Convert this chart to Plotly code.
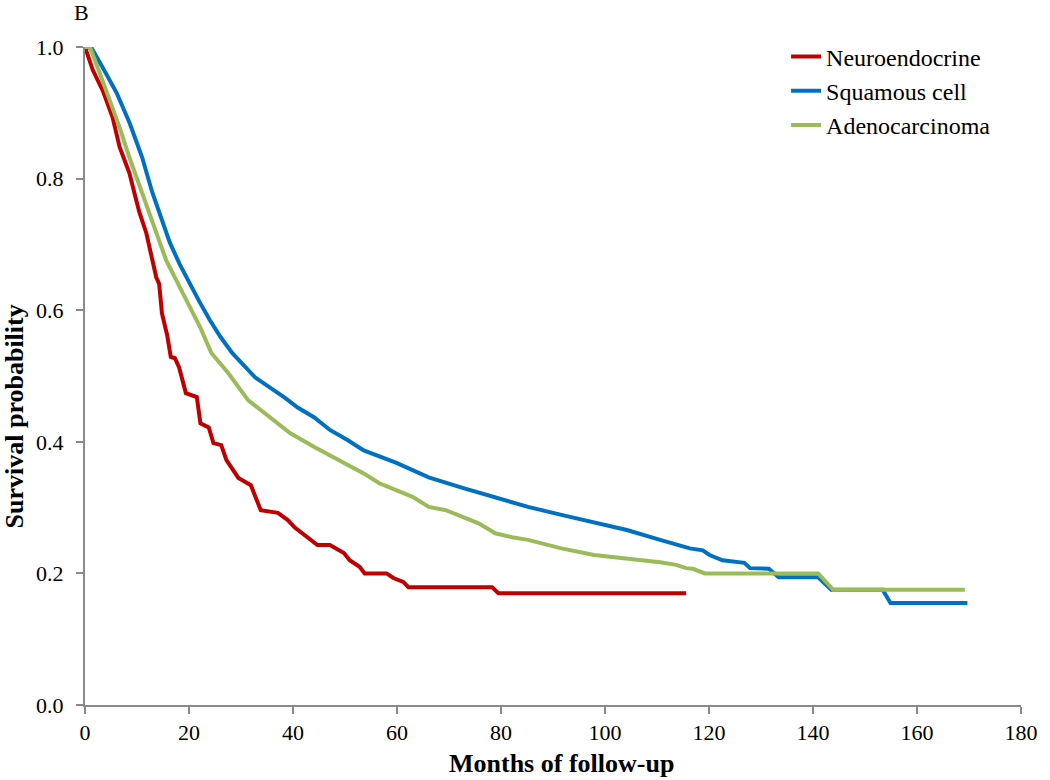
import plotly.graph_objects as go

# Neuroendocrine
neuro_month = [0, 0.4, 1.5, 3.4, 5.3, 6.65, 8.55, 9.5, 10.45, 11.8, 12.7, 13.7, 14.26, 14.8, 15.8, 16.5, 17.3,
               18.1, 19.4, 21.5, 22.2, 23.8, 24.7, 26.2, 27.2, 29.5, 31.9, 33.8, 37.1, 39.0, 40.3, 42.8, 44.7,
               47.1, 49.8, 50.9, 52.8, 53.8, 58.0, 59.3, 61.2, 62.2, 78.3, 79.5, 115.6]
neuro_surv = [1.0, 0.99, 0.965, 0.934, 0.893, 0.848, 0.808, 0.778, 0.749, 0.717, 0.684, 0.650, 0.640, 0.595,
              0.562, 0.529, 0.527, 0.513, 0.474, 0.468, 0.428, 0.422, 0.398, 0.395, 0.372, 0.345, 0.334, 0.296,
              0.292, 0.281, 0.270, 0.255, 0.243, 0.243, 0.231, 0.220, 0.210, 0.200, 0.200, 0.193, 0.187, 0.179,
              0.179, 0.170, 0.170]

# Squamous cell
squam_month = [0, 1.3, 3.4, 6.1, 8.6, 11.0, 12.9, 14.6, 16.3, 18.2, 20.0, 22.0, 24.0, 26.0, 28.3, 32.7, 38.4,
               40.9, 44.1, 47.1, 50.4, 53.6, 59.9, 66.1, 72.6, 78.9, 85.2, 91.6, 97.9, 104.2, 110.6, 116.3,
               118.8, 120.1, 122.6, 126.8, 127.9, 131.5, 133.4, 141.0, 143.5, 153.4, 154.9, 169.7]
squam_surv = [1.0, 0.998, 0.969, 0.930, 0.884, 0.832, 0.78, 0.74, 0.703, 0.67, 0.642, 0.613, 0.585, 0.56,
              0.535, 0.498, 0.467, 0.452, 0.437, 0.418, 0.403, 0.387, 0.368, 0.346, 0.330, 0.316, 0.301, 0.289,
              0.278, 0.266, 0.251, 0.238, 0.235, 0.228, 0.220, 0.216, 0.208, 0.207, 0.194, 0.194, 0.175, 0.175,
              0.155, 0.155]

# Adenocarcinoma
adeno_month = [0, 0.95, 2.85, 4.75, 6.65, 8.55, 10.8, 12.4, 15.6, 19.2, 22.2, 24.3, 27.5, 31.4, 35.7, 39.5,
               44.1, 50.4, 53.6, 56.6, 59.9, 63.1, 66.1, 69.4, 72.6, 75.7, 78.9, 82.1, 85.2, 91.6, 97.9, 104.2,
               110.6, 113.7, 115.6, 116.9, 119.2, 141.0, 143.9, 169.2]
adeno_surv = [1.0, 1.0, 0.960, 0.919, 0.878, 0.832, 0.782, 0.747, 0.676, 0.620, 0.573, 0.535, 0.505, 0.463,
              0.437, 0.413, 0.392, 0.366, 0.352, 0.337, 0.327, 0.316, 0.301, 0.296, 0.286, 0.276, 0.261, 0.255,
              0.251, 0.238, 0.228, 0.223, 0.217, 0.213, 0.208, 0.207, 0.200, 0.200, 0.175, 0.175]

x_ticks = [0, 20, 40, 60, 80, 100, 120, 140, 160, 180]
y_ticks = [0.0, 0.2, 0.4, 0.6, 0.8, 1.0]

FONT = "Liberation Serif"
AX = "#8a8a8a"

fig = go.Figure()
fig.add_trace(go.Scatter(x=neuro_month, y=neuro_surv, mode="lines", name="Neuroendocrine",
                         line=dict(color="#C00000", width=4)))
fig.add_trace(go.Scatter(x=squam_month, y=squam_surv, mode="lines", name="Squamous cell",
                         line=dict(color="#0070C0", width=4)))
fig.add_trace(go.Scatter(x=adeno_month, y=adeno_surv, mode="lines", name="Adenocarcinoma",
                         line=dict(color="#9BBB59", width=4)))

fig.update_layout(
    width=1050, height=780, autosize=False,
    margin=dict(l=85, r=18, t=47, b=75),
    paper_bgcolor="white", plot_bgcolor="white",
    font=dict(family=FONT, size=20, color="black"),
    showlegend=True,
    legend=dict(x=0.749, y=1.019, xanchor="left", yanchor="top",
                font=dict(family=FONT, size=24, color="black"),
                bgcolor="rgba(0,0,0,0)", tracegroupgap=0),
    xaxis=dict(range=[0, 180], tickvals=x_ticks, ticktext=[str(v) for v in x_ticks],
               showgrid=False, zeroline=False, showline=True, linecolor=AX, linewidth=2,
               ticks="outside", ticklen=7, tickwidth=2, tickcolor=AX,
               tickfont=dict(family=FONT, size=22, color="black")),
    yaxis=dict(range=[0, 1.0], tickvals=y_ticks, ticktext=[f"{v:.1f}" for v in y_ticks],
               showgrid=False, zeroline=False, showline=True, linecolor=AX, linewidth=2,
               ticks="outside", ticklen=7, tickwidth=2, tickcolor=AX, ticklabelstandoff=8,
               tickfont=dict(family=FONT, size=22, color="black")),
    annotations=[
        dict(text="<b>Months of follow-up</b>", xref="paper", yref="paper", x=0.509, y=-0.089,
             xanchor="center", yanchor="middle", showarrow=False,
             font=dict(family=FONT, size=26, color="black")),
        dict(text="<b>Survival probability</b>", xref="paper", yref="paper", x=-0.0755, y=0.439,
             xanchor="center", yanchor="middle", textangle=-90, showarrow=False,
             font=dict(family=FONT, size=26, color="black")),
        dict(text="B", xref="paper", yref="paper", x=-0.004, y=1.052,
             xanchor="center", yanchor="middle", showarrow=False,
             font=dict(family=FONT, size=22, color="black")),
    ],
)

fig.write_html("out.html", config={"displayModeBar": False},
               post_script="document.body.style.margin='0';document.body.style.overflow='hidden';")
